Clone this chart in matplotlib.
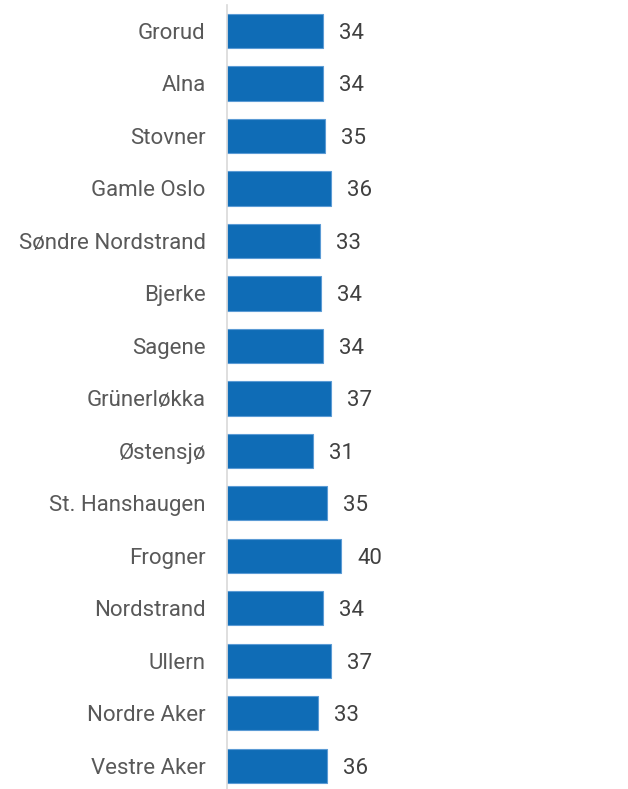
"""Horizontal bar chart of Oslo districts."""

import matplotlib

matplotlib.use("Agg")
import matplotlib.pyplot as plt
import numpy as np

districts = [
    "Grorud", "Alna", "Stovner", "Gamle Oslo", "Søndre Nordstrand", "Bjerke",
    "Sagene", "Grünerløkka", "Østensjø", "St. Hanshaugen", "Frogner",
    "Nordstrand", "Ullern", "Nordre Aker", "Vestre Aker",
]
# bar lengths
values = [33.9, 33.9, 34.6, 36.5, 32.7, 33.3, 33.9, 36.5, 30.2, 35.2,
          40.2, 33.9, 36.5, 32.2, 35.2]
# numbers printed next to the bars
value_labels = ["34", "34", "35", "36", "33", "34", "34", "37", "31", "35",
                "40", "34", "37", "33", "36"]

BAR_COLOR = "#0F6CB6"
EDGE_COLOR = "#5B9BD5"

plt.rcParams["font.family"] = ["Roboto", "DejaVu Sans"]

W, H = 628, 789
fig = plt.figure(figsize=(W / 100, H / 100), dpi=100)
ax = fig.add_axes([226.5 / W, 0.0, 1 - 226.5 / W, 1 - 5 / H])

y = np.arange(len(districts))
ax.barh(y, values, height=0.65, color=BAR_COLOR, edgecolor=EDGE_COLOR, linewidth=0.8)

px_per_unit = 2.85
ax.set_xlim(0, (W - 226.5) / px_per_unit)
ax.set_ylim(14.44, -0.495)

for yi, v, lab in zip(y, values, value_labels):
    ax.text(v + 16 / px_per_unit, yi + 0.04, lab, va="center", ha="left",
            fontsize=16, color="#404040")

ax.set_yticks(y)
ax.set_yticklabels(districts, fontsize=16, color="#595959")
ax.tick_params(axis="y", length=0, pad=15)
ax.set_xticks([])

for side in ("top", "right", "bottom"):
    ax.spines[side].set_visible(False)
ax.spines["left"].set_color("#D9D9D9")
ax.spines["left"].set_linewidth(1.2)

fig.savefig("out.png", dpi=100)
